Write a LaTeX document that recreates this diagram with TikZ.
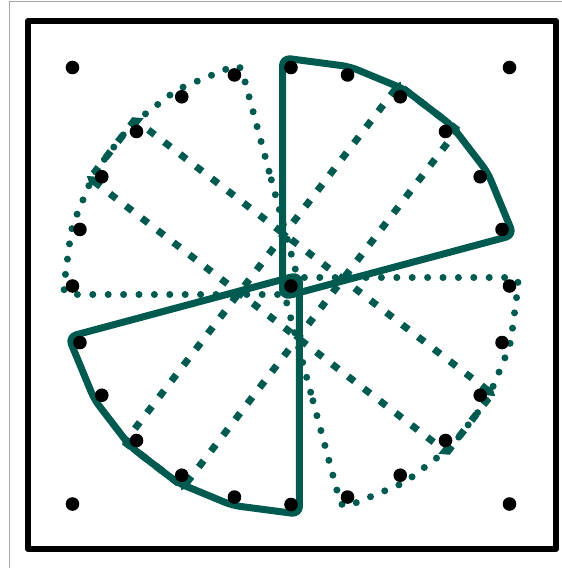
\documentclass[tikz,border=0pt]{standalone}
\usetikzlibrary{calc,arrows.meta}
\definecolor{dg}{RGB}{0,90,80}
\begin{document}
\begin{tikzpicture}[x=1pt,y=1pt,line join=round,
  solidp/.style={draw=dg,line width=7pt,rounded corners=8pt},
  dotp/.style={draw=dg,line width=7pt,line cap=round,dash pattern=on 0pt off 15.4pt,rounded corners=8pt},
  dashp/.style={draw=dg,line width=7pt,dash pattern=on 8pt off 12pt},
  tipd/.style={{Triangle[length=10pt,width=12pt]}-{Triangle[length=10pt,width=12pt]},shorten <=-4pt,shorten >=-4pt},
  dotb/.style={fill=black}]
\useasboundingbox (-291,-282) rectangle (271,286);
% thin outer lines
\draw[gray!70,line width=1pt] (-281.5,-282) -- (-281.5,284.3) -- (271,284.3);
% frame
\draw[line width=6pt] (-263,265) rectangle (265,-263);
% sectors
\foreach \a/\sty in {15/solidp,195/solidp,105/dotp,285/dotp}{
  \coordinate (c0) at (\a+217.5:13.96);
  \coordinate (c1) at ($(\a:218.5)+(\a-41.25:12.89)$);
  \coordinate (c2) at (\a+15:227.07);
  \coordinate (c3) at (\a+30:227.07);
  \coordinate (c4) at (\a+45:227.07);
  \coordinate (c5) at (\a+60:227.07);
  \coordinate (c6) at ($(\a+75:218.5)+(\a+116.25:12.89)$);
  \coordinate (cs) at ($(c0)!0.5!(c1)$);
  \path[\sty] (cs) -- (c1) -- (c2) -- (c3) -- (c4) -- (c5) -- (c6) -- (c0) -- cycle;
}
% dashed loops
\foreach \b in {135,45}{
  \coordinate (p1) at ($(\b:218.5)+(\b-37.5:12.02)$);
  \coordinate (p2) at ($(\b+15:218.5)+(\b+52.5:12.02)$);
  \coordinate (p3) at ($(\b+180:218.5)+(\b+142.5:12.02)$);
  \coordinate (p4) at ($(\b+195:218.5)+(\b+232.5:12.02)$);
  \draw[dashp] (p1) -- (p2);
  \draw[dashp] (p3) -- (p4);
  \draw[dashp,tipd] (p4) -- (p1);
  \draw[dashp,tipd] (p2) -- (p3);
}
% dots
\foreach \a in {0,15,...,345}{
  \fill[dotb] (\a:218.5) coordinate (d\a) circle (6.8pt);
}
\foreach \x/\y [count=\i] in {-218.5/218.5,218.5/218.5,-218.5/-218,218.5/-218}{
  \fill[dotb] (\x,\y) coordinate (k\i) circle (6.8pt);
}
\fill[dotb] (0,0) coordinate (ctr) circle (6.8pt);
\end{tikzpicture}
\end{document}
